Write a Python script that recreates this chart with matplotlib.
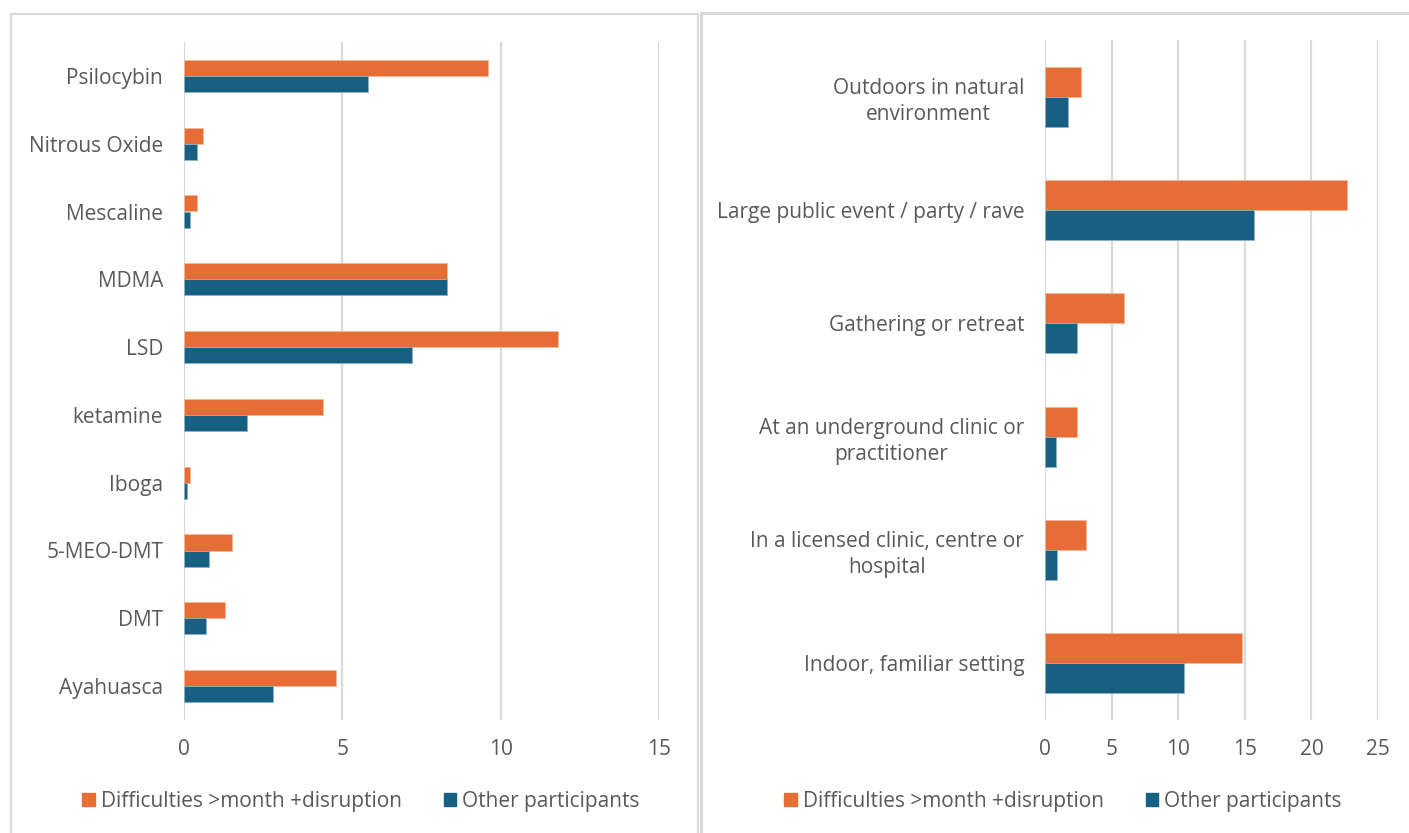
import numpy as np
import matplotlib
matplotlib.use("Agg")
from matplotlib import pyplot as plt
from matplotlib.patches import Rectangle

# data, listed top to bottom as in the chart
substances = ["Psilocybin", "Nitrous Oxide", "Mescaline", "MDMA", "LSD",
              "ketamine", "Iboga", "5-MEO-DMT", "DMT", "Ayahuasca"]
subst_difficult = [9.6, 0.6, 0.4, 8.3, 11.8, 4.4, 0.2, 1.5, 1.3, 4.8]
subst_other = [5.8, 0.4, 0.2, 8.3, 7.2, 2.0, 0.1, 0.8, 0.7, 2.8]

settings = ["Outdoors in natural\nenvironment",
            "Large public event / party / rave",
            "Gathering or retreat",
            "At an underground clinic or\npractitioner",
            "In a licensed clinic, centre or\nhospital",
            "Indoor, familiar setting"]
setting_difficult = [2.7, 22.7, 5.9, 2.4, 3.1, 14.8]
setting_other = [1.7, 15.7, 2.4, 0.8, 0.9, 10.4]

series_names = ["Difficulties >month +disruption", "Other participants"]
orange = "#E66D35"
blue = "#176082"
grid_c = "#D9D9D9"
text_c = "#595959"
fs = 15

plt.rcParams["font.family"] = ["Open Sans", "DejaVu Sans"]
plt.rcParams["font.size"] = fs

fig = plt.figure(figsize=(14.09, 8.33), dpi=100)
W, H = 1409.0, 833.0


def px_axes(x0, x1, y0, y1):
    return fig.add_axes([x0 / W, 1 - y1 / H, (x1 - x0) / W, (y1 - y0) / H])


def draw_panel(ax, labels, a, b, xmax, step, bar_h, label_pad):
    pos = np.arange(len(labels))
    ax.barh(pos - bar_h / 2, a, height=bar_h, color=orange,
            edgecolor="#F4B89A", linewidth=0.6, zorder=3)
    ax.barh(pos + bar_h / 2, b, height=bar_h, color=blue,
            edgecolor="#8FB0C2", linewidth=0.6, zorder=3)
    ax.set_ylim(len(labels) - 0.5, -0.5)
    ax.set_xlim(0, xmax)
    ax.set_xticks(np.arange(0, xmax + 0.1, step))
    ax.set_yticks(pos)
    ax.set_yticklabels(labels, multialignment="center", linespacing=1.3)
    ax.xaxis.grid(True, color=grid_c, linewidth=1.6, zorder=0)
    ax.set_axisbelow(True)
    for s in ax.spines.values():
        s.set_visible(False)
    ax.tick_params(axis="both", length=0, colors=text_c, labelsize=fs)
    ax.tick_params(axis="x", pad=14)
    ax.tick_params(axis="y", pad=label_pad)


ax1 = px_axes(184, 659, 42, 720)
draw_panel(ax1, substances, subst_difficult, subst_other, 15, 5, 0.236, 15)

ax2 = px_axes(1045, 1378, 40, 720)
draw_panel(ax2, settings, setting_difficult, setting_other, 25, 5, 0.265, 15)

# legends
handles = [Rectangle((0, 0), 1, 1, color=orange), Rectangle((0, 0), 1, 1, color=blue)]
for cx in (361, 1063):
    fig.legend(handles, series_names, loc="center", ncol=2,
               bbox_to_anchor=(cx / W, 1 - 801 / H), frameon=False,
               handlelength=0.6, handleheight=0.6, handletextpad=0.3,
               columnspacing=2.0, labelcolor=text_c, fontsize=fs)

# panel borders
fig.add_artist(Rectangle((11 / W, -0.05), (698 - 11) / W, 1.05 - 14 / H,
                         transform=fig.transFigure, fill=False,
                         edgecolor=grid_c, linewidth=1.6, zorder=0))
fig.add_artist(Rectangle((701 / W, -0.05), 1.0, 1.05 - 13 / H,
                         transform=fig.transFigure, fill=False,
                         edgecolor=grid_c, linewidth=2.2, zorder=0))

fig.savefig("out.png", dpi=100)
